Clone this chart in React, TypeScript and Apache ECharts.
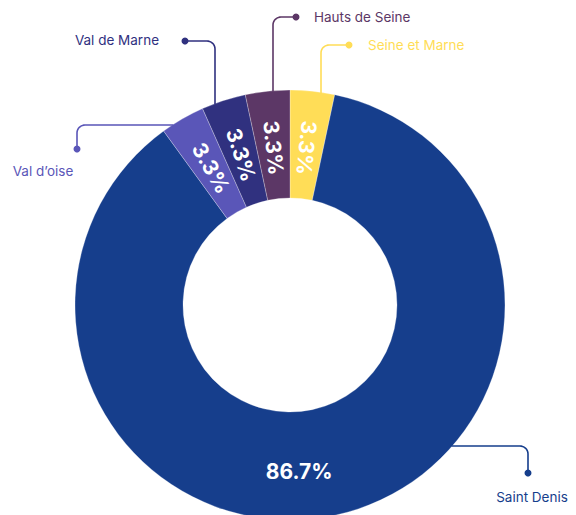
import React, { useEffect, useRef } from 'react';
import * as echarts from 'echarts';

const regions = ['Seine et Marne', 'Saint Denis', 'Val d\u2019oise', 'Val de Marne', 'Hauts de Seine'];
const counts = [1, 26, 1, 1, 1];
const colors = ['#FFDD57', '#163E8C', '#5A56B8', '#30317F', '#5C3766'];

// callout layout (decoration only): first segment direction, its coordinate, dot and text anchors
const callouts = [
  { dir: 'v', line: 321, dot: [349, 45], text: [368, 45], align: 'left' },
  { dir: 'h', line: 446, dot: [528, 473], text: [532, 497], align: 'center' },
  { dir: 'h', line: 125, dot: [77, 149], text: [43, 171], align: 'center' },
  { dir: 'v', line: 215, dot: [185, 41], text: [159, 40], align: 'right' },
  { dir: 'v', line: 273, dot: [296, 17], text: [314, 17], align: 'left' },
];

const CX = 290;
const CY = 305;
const R0 = 107;
const R = 215;
const RC = 8;
const INWARD = 6;

function calloutPoints(c: any): number[][] {
  const pts: number[][] = [];
  const [dx, dy] = c.dot;
  if (c.dir === 'v') {
    const X = c.line;
    const yStart = CY - Math.sqrt(R * R - (X - CX) * (X - CX)) + 1;
    const s = dx > X ? 1 : -1;
    pts.push([X, yStart]);
    const ccx = X + s * RC;
    const ccy = dy + RC;
    const p0 = s > 0 ? Math.PI : 0;
    const p1 = s > 0 ? 1.5 * Math.PI : -0.5 * Math.PI;
    for (let k = 0; k <= 10; k++) {
      const p = p0 + (p1 - p0) * (k / 10);
      pts.push([ccx + RC * Math.cos(p), ccy + RC * Math.sin(p)]);
    }
    pts.push([dx, dy]);
  } else {
    const Y = c.line;
    const half = Math.sqrt(R * R - (Y - CY) * (Y - CY));
    const xStart = dx > CX ? CX + half - 1 : CX - half + 1;
    const s = dx > xStart ? 1 : -1;
    pts.push([xStart, Y]);
    const ccx = dx - s * RC;
    const ccy = Y + RC;
    const p0 = -0.5 * Math.PI;
    const p1 = s > 0 ? 0 : -Math.PI;
    for (let k = 0; k <= 10; k++) {
      const p = p0 + (p1 - p0) * (k / 10);
      pts.push([ccx + RC * Math.cos(p), ccy + RC * Math.sin(p)]);
    }
    pts.push([dx, dy]);
  }
  return pts;
}

export default function App() {
  const ref = useRef<HTMLDivElement>(null);
  useEffect(() => {
    if (!ref.current) return;
    const chart = echarts.init(ref.current, undefined, { renderer: 'svg' });
    const total = counts.reduce((a, b) => a + b, 0);
    let acc = 0;
    const data = regions.map((name, i) => {
      const midFrac = (acc + counts[i] / 2) / total;
      acc += counts[i];
      const mid = 90 - midFrac * 360;
      const big = counts[i] / total > 0.5;
      return {
        name,
        value: counts[i],
        itemStyle: { color: colors[i] },
        label: { rotate: big ? 0 : mid - 180 },
      };
    });

    const graphics: any[] = [];
    callouts.forEach((c, i) => {
      graphics.push({
        type: 'polyline',
        z: 10,
        shape: { points: calloutPoints(c) },
        style: { stroke: colors[i], lineWidth: 1.6, fill: null },
      });
      graphics.push({
        type: 'circle',
        z: 11,
        shape: { cx: c.dot[0], cy: c.dot[1], r: 3.5 },
        style: { fill: colors[i] },
      });
      graphics.push({
        type: 'text',
        z: 11,
        x: c.text[0],
        y: c.text[1],
        style: {
          text: regions[i],
          fill: colors[i],
          align: c.align,
          verticalAlign: 'middle',
          fontSize: 13.5,
          fontFamily: 'Inter',
          fontWeight: 400,
        },
      });
    });

    chart.setOption({
      animation: false,
      backgroundColor: '#ffffff',
      graphic: graphics,
      series: [
        {
          type: 'pie',
          center: [CX, CY],
          radius: [R0, R],
          startAngle: 90,
          clockwise: true,
          avoidLabelOverlap: false,
          itemStyle: { borderColor: 'rgba(255,255,255,0.45)', borderWidth: 0.6 },
          label: {
            position: 'inside',
            color: '#ffffff',
            fontFamily: 'Inter',
            fontWeight: 700,
            fontSize: 21,
            formatter: (p: any) => ((p.value / total) * 100).toFixed(1) + '%',
          },
          labelLine: { show: false },
          labelLayout: (p: any) => (p.dataIndex === 1 ? { dx: -25, dy: 6 } : { dx: INWARD, dy: 0 }),
          emphasis: { disabled: true },
          data,
        },
      ],
    });
    return () => chart.dispose();
  }, []);
  return (
    <div
      ref={ref}
      style={{ position: 'absolute', left: 0, top: 0, width: 576, height: 515 }}
    />
  );
}
